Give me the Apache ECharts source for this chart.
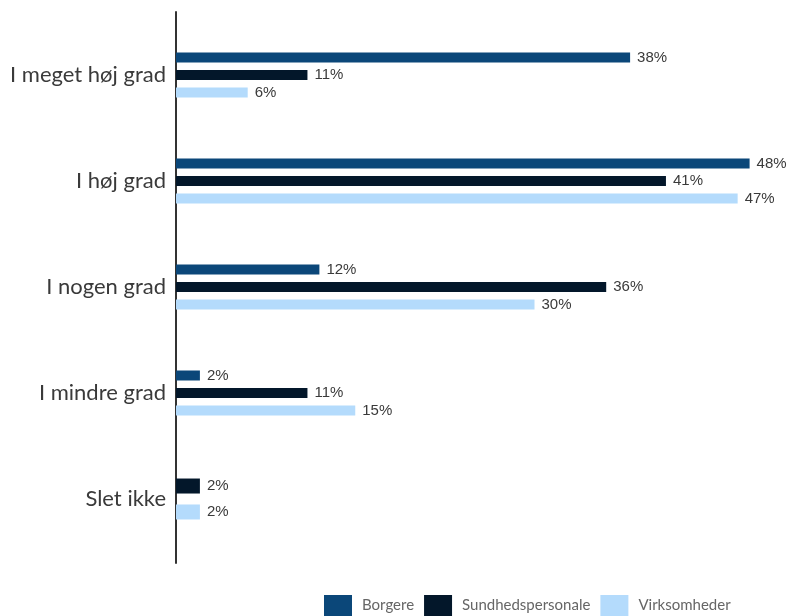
<!DOCTYPE html>
<html>
<head>
<meta charset="utf-8">
<script src="https://cdn.jsdelivr.net/npm/echarts@6/dist/echarts.min.js"></script>
<style>
  html, body { margin: 0; padding: 0; background: #fff; }
  #chart { width: 789px; height: 616px; }
</style>
</head>
<body>
<div id="chart"></div>
<script>
// Answer categories (top to bottom)
const categories = ['I meget høj grad', 'I høj grad', 'I nogen grad', 'I mindre grad', 'Slet ikke'];

// Share of respondents (%) per group
const borgere = [38, 48, 12, 2, null];
const sundhedspersonale = [11, 41, 36, 11, 2];
const virksomheder = [6, 47, 30, 15, 2];

const seriesNames = ['Borgere', 'Sundhedspersonale', 'Virksomheder'];
const seriesColors = ['#0b4779', '#03172a', '#b4dbfc'];
const seriesValues = [borgere, sundhedspersonale, virksomheder];

// A category where a group has no answer is drawn with only the groups present,
// so those bars sit on a second (hidden) category axis with their own layout.
const complete = categories.map((_, i) => seriesValues.every(v => v[i] != null));

const labelStyle = {
  show: true,
  position: 'right',
  distance: 7,
  formatter: p => p.value + '%',
  fontFamily: 'Liberation Sans, Arial, sans-serif',
  fontSize: 15,
  color: '#3a3a3a'
};

const series = [];
seriesValues.forEach((vals, s) => {
  series.push({
    name: seriesNames[s],
    type: 'bar',
    xAxisIndex: 0,
    yAxisIndex: 0,
    barWidth: 10,
    barGap: '75%',
    itemStyle: { color: seriesColors[s] },
    label: labelStyle,
    data: vals.map((v, i) => complete[i] ? v : null)
  });
});
seriesValues.forEach((vals, s) => {
  const part = vals.map((v, i) => complete[i] ? null : v);
  if (part.every(v => v == null)) return;
  series.push({
    name: seriesNames[s],
    type: 'bar',
    xAxisIndex: 0,
    yAxisIndex: 1,
    barWidth: 15,
    barGap: '73%',
    itemStyle: { color: seriesColors[s] },
    label: labelStyle,
    data: part
  });
});

const chart = echarts.init(document.getElementById('chart'), null, { renderer: 'canvas' });
chart.setOption({
  animation: false,
  backgroundColor: '#ffffff',
  legend: {
    data: seriesNames,
    left: 324,
    top: 595,
    padding: 0,
    itemWidth: 28,
    itemHeight: 21,
    itemGap: 10,
    icon: 'rect',
    textStyle: {
      fontFamily: 'Lato, sans-serif',
      fontSize: 15,
      color: '#666666',
      padding: [0, 0, 0, 5]
    }
  },
  grid: [
    { left: 176, right: 15.5, top: 22, bottom: 64, containLabel: false },
    { left: 176, right: 15.5, top: 12, bottom: 53, containLabel: false }
  ],
  xAxis: [
    { type: 'value', gridIndex: 0, min: 0, max: 50, show: false },
    { type: 'value', gridIndex: 1, min: 0, max: 1, show: false }
  ],
  yAxis: [
    {
      type: 'category',
      gridIndex: 0,
      inverse: true,
      data: categories,
      axisLine: { show: false },
      axisTick: { show: false },
      axisLabel: {
        margin: 10,
        fontFamily: 'Lato, sans-serif',
        fontSize: 22,
        color: '#3a3a3a'
      }
    },
    {
      type: 'category',
      gridIndex: 0,
      inverse: true,
      data: categories,
      show: false
    },
    {
      type: 'value',
      gridIndex: 1,
      min: 0,
      max: 1,
      axisLine: { show: true, lineStyle: { color: '#333333', width: 2 } },
      axisTick: { show: false },
      axisLabel: { show: false },
      splitLine: { show: false }
    }
  ],
  series: series
});
</script>
</body>
</html>
